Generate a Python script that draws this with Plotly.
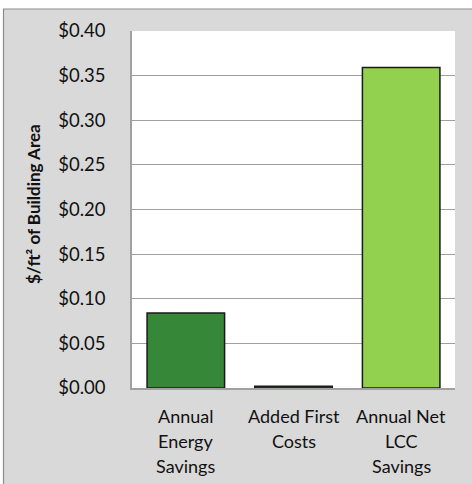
import plotly.graph_objects as go

categories = ["Annual Energy Savings", "Added First Costs", "Annual Net LCC Savings"]
label_lines = [["Annual", "Energy", "Savings"], ["Added First", "Costs"], ["Annual Net", "LCC", "Savings"]]
values = [0.084, 0.002, 0.359]
bar_colors = ["#378739", "#3A6B30", "#92D050"]
y_ticks = [0.0, 0.05, 0.10, 0.15, 0.20, 0.25, 0.30, 0.35, 0.40]

W, H = 472, 484
ml, mr, mt, mb = 132, 17, 31, 96
pw, ph = W - ml - mr, H - mt - mb

def px_x(x):
    return (x - ml) / pw

def px_y(y):
    return (H - mb - y) / ph

fig = go.Figure()
fig.add_trace(go.Bar(
    x=categories, y=values,
    marker=dict(color=bar_colors, line=dict(color="#1a1a1a", width=1.5)),
    width=0.72, hoverinfo="skip",
))

font_family = "Lato, Carlito, Calibri, sans-serif"
grid_col = "#A0A0A0"
text_col = "#111111"

shapes = [
    dict(type="rect", xref="paper", yref="paper", x0=px_x(-5), x1=px_x(W + 5), y0=px_y(9), y1=px_y(-5),
         fillcolor="white", line=dict(width=0), layer="below"),
    dict(type="rect", xref="paper", yref="paper", x0=px_x(-5), x1=px_x(3.5), y0=px_y(-5), y1=px_y(H + 5),
         fillcolor="white", line=dict(width=0), layer="below"),
    dict(type="rect", xref="paper", yref="paper", x0=px_x(3.5), x1=px_x(W + 5), y0=px_y(9), y1=px_y(H + 5),
         fillcolor="rgba(0,0,0,0)", line=dict(color="#8C8C8C", width=1.2), layer="below"),
]

annotations = []
for cat, lines in zip(categories, label_lines):
    for i, ln in enumerate(lines):
        annotations.append(dict(
            x=cat, xref="x", y=0, yref="paper", text=ln, showarrow=False,
            xanchor="center", yanchor="middle", yshift=-(28 + 25 * i),
            font=dict(family=font_family, size=18, color=text_col),
        ))
annotations.append(dict(
    x=px_x(33), xref="paper", y=px_y(204), yref="paper",
    text="$/ft² of Building Area", textangle=-90, showarrow=False,
    xanchor="center", yanchor="middle",
    font=dict(family=font_family, size=17, color=text_col, weight="bold"),
))

fig.update_layout(
    width=W, height=H,
    margin=dict(l=ml, r=mr, t=mt, b=mb, autoexpand=False),
    paper_bgcolor="#D9D9D9", plot_bgcolor="white",
    showlegend=False,
    shapes=shapes, annotations=annotations,
    bargap=0.28,
)
fig.update_xaxes(
    showticklabels=False, showgrid=False, showline=True, linecolor=grid_col, linewidth=1.5,
    ticks="", fixedrange=True,
)
fig.update_yaxes(
    range=[0, 0.4], tickvals=y_ticks, tickformat="$.2f",
    showgrid=True, gridcolor=grid_col, gridwidth=1.3,
    showline=True, linecolor=grid_col, linewidth=1.5, zeroline=False,
    ticks="", ticklabelstandoff=21, fixedrange=True,
    tickfont=dict(family=font_family, size=18.5, color=text_col),
)

fig.write_html("out.html", config={"displayModeBar": False},
               post_script="document.body.style.margin='0';document.body.style.overflow='hidden';")
